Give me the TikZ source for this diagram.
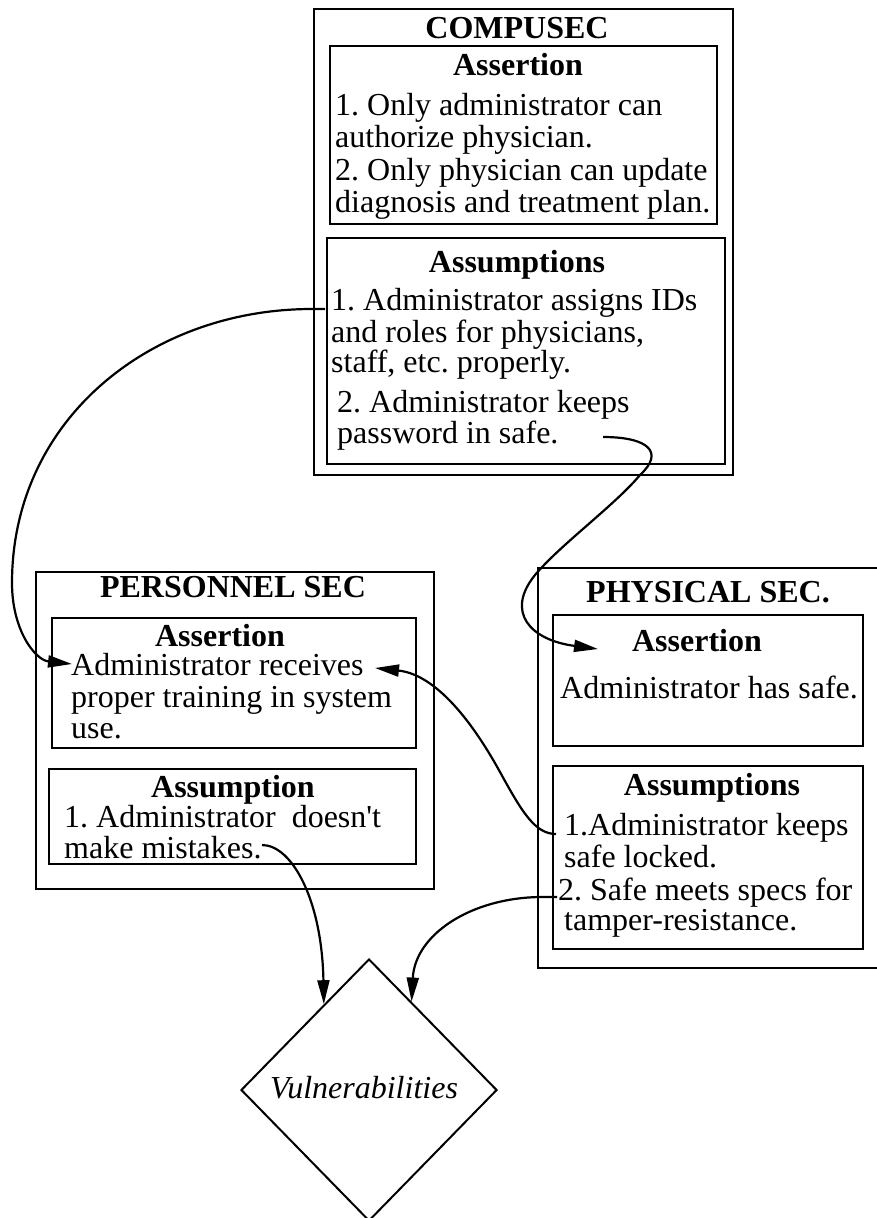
\documentclass[tikz,border=0pt]{standalone}
\usepackage{fontspec}
\setmainfont{Liberation Serif}
\usetikzlibrary{arrows.meta,shapes.geometric,calc}
\frenchspacing
\begin{document}
\begin{tikzpicture}[x=1pt,y=-1pt,
  box/.style={draw,line width=2.3pt,rectangle,inner sep=0pt,anchor=north west},
  txt/.style={anchor=base west,inner sep=0pt,font=\fontsize{32}{32}\selectfont},
  ttl/.style={anchor=base,inner sep=0pt,font=\fontsize{32}{32}\selectfont\bfseries},
  link/.style={line width=2.2pt,-{Triangle[length=24pt,width=12pt]}}]
\useasboundingbox (0,0) rectangle (876,1218);

% ---------- COMPUSEC ----------
\node[box,minimum width=419pt,minimum height=466pt] (comp) at (313,8) {};
\node[box,minimum width=387pt,minimum height=178pt] (compA) at (329,45) {};
\node[box,minimum width=398pt,minimum height=226pt] (compB) at (326,237) {};
\node[ttl] (compT) at (517,38) {COMPUSEC};
\node[ttl] (compAT) at (518,75) {Assertion};
\node[txt] (ca1) at (335,115) {1. Only administrator can};
\node[txt] (ca2) at (335,147) {authorize physician.};
\node[txt] (ca3) at (335,180) {2. Only physician can update};
\node[txt] (ca4) at (335,212) {diagnosis and treatment plan.};
\node[ttl] (compBT) at (517,272) {Assumptions};
\node[txt] (cb1) at (331,310) {1. Administrator assigns IDs};
\node[txt] (cb2) at (331,342) {and roles for physicians,};
\node[txt] (cb3) at (331,372) {staff, etc. properly.};
\node[txt] (cb4) at (337,412) {2. Administrator keeps};
\node[txt] (cb5) at (337,443) {password in safe.};

% ---------- PERSONNEL SEC ----------
\node[box,minimum width=398pt,minimum height=317pt] (pers) at (35,571) {};
\node[box,minimum width=364pt,minimum height=130pt] (persA) at (51,617) {};
\node[box,minimum width=367pt,minimum height=95pt] (persB) at (48,768) {};
\node[ttl] (persT) at (233,597) {PERSONNEL SEC};
\node[ttl] (persAT) at (220,646) {Assertion};
\node[txt] (pa1) at (71,675) {Administrator receives};
\node[txt] (pa2) at (71,707) {proper training in system};
\node[txt] (pa3) at (71,738) {use.};
\node[ttl] (persBT) at (233,797) {Assumption};
\node[txt] (pb1) at (64,827) {1. Administrator\ \ doesn\textquotesingle t};
\node[txt] (pb2) at (64,858) {make mistakes.};

% ---------- PHYSICAL SEC. ----------
\node[box,minimum width=343pt,minimum height=400pt] (phys) at (537,567) {};
\node[box,minimum width=310pt,minimum height=131pt] (physA) at (552,614) {};
\node[box,minimum width=310pt,minimum height=183pt] (physB) at (552,765) {};
\node[ttl] (physT) at (708,602) {PHYSICAL SEC.};
\node[ttl] (physAT) at (697,651) {Assertion};
\node[txt] (ha1) at (560,698) {Administrator has safe.};
\node[ttl] (physBT) at (712,795) {Assumptions};
\node[txt] (hb1) at (564,835) {1.Administrator keeps};
\node[txt] (hb2) at (564,867) {safe locked.};
\node[txt] (hb3) at (558,900) {2. Safe meets specs for};
\node[txt] (hb4) at (564,930) {tamper-resistance.};

% ---------- Vulnerabilities ----------
\node[diamond,draw,line width=2pt,minimum width=256pt,minimum height=262pt,inner sep=0pt] (vul) at (369,1090) {};
\node[anchor=base,inner sep=0pt,font=\fontsize{32}{32}\selectfont\itshape] (vulT) at (364,1098) {Vulnerabilities};

% ---------- connector end points ----------
\coordinate (a1s) at (325,309);
\coordinate (a1e) at (72,664);
\coordinate (a2s) at (603,437);
\coordinate (a2e) at (598,649);
\coordinate (a3s) at (556,834);
\coordinate (a3e) at (375,668);
\coordinate (a4s) at (262,845);
\coordinate (a4e) at ($(vul.north)!0.35!(vul.west)$);
\coordinate (a5s) at (557,897);
\coordinate (a5e) at ($(vul.north)!0.33!(vul.east)$);

% ---------- connectors ----------
\draw[link] (a1s) -- (312,309) .. controls (150,309) and (12,420) .. (12,583)
  .. controls (12,630) and (35,660) .. (a1e);
\draw[link] (a2s) .. controls (648,437) and (665,452) .. (640,475)
  .. controls (615,505) and (560,545) .. (535,575)
  .. controls (505,612) and (530,640) .. (a2e);
\draw[link] (a3s) .. controls (535,834) and (522,812) .. (500,772)
  .. controls (478,732) and (440,675) .. (a3e);
\draw[link] (a4s) .. controls (292,845) and (322,900) .. (a4e);
\draw[link] (a5s) -- (540,897) .. controls (470,898) and (415,935) .. (a5e);
\end{tikzpicture}
\end{document}
